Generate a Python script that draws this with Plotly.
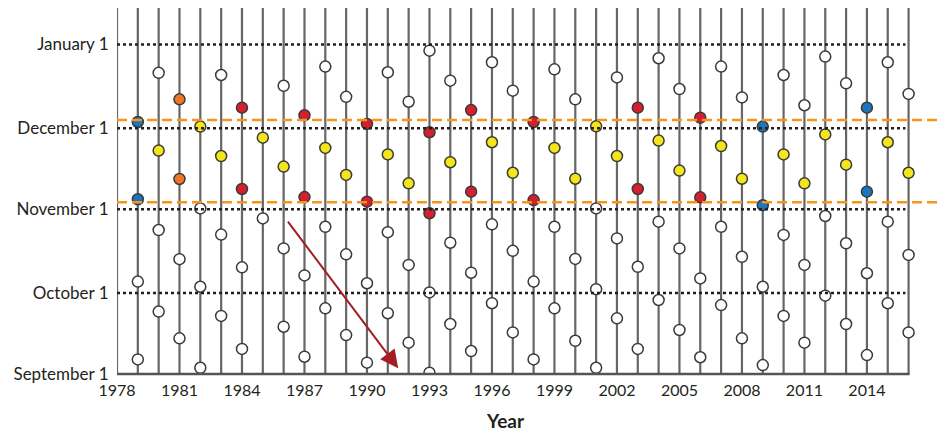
import plotly.graph_objects as go

# ---- data: days after September 1 (Sep 1 = 0, Oct 1 = 30, Nov 1 = 61, Dec 1 = 91, Jan 1 = 122)
years = list(range(1978, 2017))

blue_years = [1979, 1979, 2009, 2009, 2014, 2014]
blue_days = [93.3, 64.7, 91.6, 62.5, 98.6, 67.5]

orange_years = [1981, 1981]
orange_days = [101.7, 72.2]

red_years = [1984, 1984, 1987, 1987, 1990, 1990, 1993, 1993,
             1995, 1995, 1998, 1998, 2003, 2003, 2006, 2006]
red_days = [98.6, 68.5, 95.8, 65.5, 92.6, 63.8, 89.5, 59.5,
            97.7, 67.5, 93.3, 64.4, 98.6, 68.5, 94.9, 65.4]

yellow_years = [1980, 1982, 1983, 1985, 1986, 1988, 1989, 1991, 1992, 1994,
                1996, 1997, 1999, 2000, 2001, 2002, 2004, 2005, 2007, 2008,
                2010, 2011, 2012, 2013, 2015, 2016]
yellow_days = [82.7, 91.6, 80.7, 87.5, 76.8, 83.7, 73.7, 81.3, 70.6, 78.4,
               85.8, 74.5, 83.7, 72.3, 91.7, 80.7, 86.4, 75.3, 84.4, 72.3,
               81.3, 70.6, 88.7, 77.5, 85.8, 74.5]

white_years = [1979, 1979,
               1980, 1980, 1980,
               1981, 1981,
               1982, 1982, 1982,
               1983, 1983, 1983,
               1984, 1984,
               1985,
               1986, 1986, 1986,
               1987, 1987,
               1988, 1988, 1988,
               1989, 1989, 1989,
               1990, 1990,
               1991, 1991, 1991,
               1992, 1992, 1992,
               1993, 1993, 1993,
               1994, 1994, 1994,
               1995, 1995,
               1996, 1996, 1996,
               1997, 1997, 1997,
               1998, 1998,
               1999, 1999, 1999,
               2000, 2000, 2000,
               2001, 2001, 2001,
               2002, 2002, 2002,
               2003, 2003,
               2004, 2004, 2004,
               2005, 2005, 2005,
               2006, 2006,
               2007, 2007, 2007,
               2008, 2008, 2008,
               2009, 2009,
               2010, 2010, 2010,
               2011, 2011, 2011,
               2012, 2012, 2012,
               2013, 2013, 2013,
               2014, 2014,
               2015, 2015, 2015,
               2016, 2016, 2016]
white_days = [34.2, 5.4,
              111.5, 53.3, 23.1,
              42.5, 13.2,
              61.3, 32.3, 2.3,
              110.7, 51.6, 21.5,
              39.5, 9.3,
              57.6,
              106.7, 46.5, 17.5,
              36.5, 6.4,
              113.8, 54.5, 24.3,
              102.6, 44.3, 14.4,
              33.6, 4.2,
              111.7, 52.5, 22.5,
              100.8, 40.4, 11.6,
              119.7, 30.2, 0.5,
              108.6, 48.6, 18.5,
              37.5, 8.5,
              115.4, 55.4, 26.2,
              104.9, 45.6, 15.4,
              34.2, 5.4,
              112.8, 54.5, 24.3,
              101.7, 42.6, 12.3,
              61.3, 31.4, 2.3,
              109.8, 50.2, 20.6,
              39.7, 9.3,
              116.9, 56.4, 27.4,
              105.5, 46.5, 16.3,
              35.4, 6.2,
              113.8, 54.5, 25.5,
              102.4, 43.4, 13.2,
              32.3, 3.3,
              110.7, 51.5, 21.5,
              99.5, 40.4, 11.6,
              117.5, 58.5, 29.0,
              107.6, 48.4, 18.5,
              37.3, 7.0,
              115.4, 56.4, 26.2,
              103.7, 44.1, 15.4]

month_ticks = [0, 30, 61, 91, 122]
month_labels = ["September 1", "October 1", "November 1", "December 1", "January 1"]
dotted_days = [30, 61, 91, 122]
orange_days_lines = [63.6, 94.0]
year_ticks = list(range(1978, 2015, 3))

arrow_start = (1986.15, 57.0)
arrow_end = (1991.5, 2.1)

Y_TOP = 135.5
FONT = "Lato"
TXT = "#231f20"

fig = go.Figure()

# vertical year lines
vx, vy = [], []
for yr in years:
    vx += [yr, yr, None]
    vy += [0, Y_TOP, None]
fig.add_trace(go.Scatter(x=vx, y=vy, mode="lines",
                         line=dict(color="#666666", width=2.2),
                         hoverinfo="skip", showlegend=False))

# horizontal dotted month lines
for d in dotted_days:
    fig.add_shape(type="line", xref="x", yref="y", x0=1978, x1=2015.85, y0=d, y1=d,
                  line=dict(color=TXT, width=2.5, dash="3px,3px"), layer="above")

# orange dashed lines
for d in orange_days_lines:
    fig.add_shape(type="line", xref="paper", yref="y", x0=0, x1=1.05, y0=d, y1=d,
                  line=dict(color="#f7941d", width=2.5, dash="10px,5px"), layer="above")

# bottom axis line
fig.add_shape(type="line", xref="x", yref="paper", x0=1978, x1=2016.05, y0=0, y1=0,
              line=dict(color="#555555", width=2.5), layer="above")

def pts(xs, ys, fill):
    fig.add_trace(go.Scatter(x=xs, y=ys, mode="markers",
                             marker=dict(size=11, color=fill,
                                         line=dict(color="#3a3a3a", width=1.5)),
                             hoverinfo="skip", showlegend=False))

pts(white_years, white_days, "white")
pts(yellow_years, yellow_days, "#f4e61a")
pts(red_years, red_days, "#d51f2e")
pts(orange_years, orange_days, "#ee7624")
pts(blue_years, blue_days, "#1b75bc")

# red arrow
fig.add_annotation(x=arrow_end[0], y=arrow_end[1], ax=arrow_start[0], ay=arrow_start[1],
                   xref="x", yref="y", axref="x", ayref="y", text="",
                   showarrow=True, arrowhead=2, arrowsize=1.8, arrowwidth=2,
                   arrowcolor="#a51c24", standoff=0)

# x-axis title
fig.add_annotation(x=0.485, y=-0.127, xref="paper", yref="paper", text="<b>Year</b>",
                   showarrow=False, font=dict(family=FONT, size=19, color=TXT),
                   xanchor="center", yanchor="middle")

fig.update_layout(
    width=938, height=431,
    margin=dict(l=117, r=19, t=8, b=57),
    paper_bgcolor="white", plot_bgcolor="white",
    font=dict(family=FONT, color=TXT),
    xaxis=dict(range=[1978, 2016.5], tickvals=year_ticks, ticktext=[str(v) for v in year_ticks],
               showgrid=False, zeroline=False, showline=False,
               ticks="outside", ticklen=2, tickcolor="rgba(0,0,0,0)",
               tickfont=dict(family=FONT, size=16, color=TXT)),
    yaxis=dict(range=[0, Y_TOP], tickvals=month_ticks, ticktext=month_labels,
               showgrid=False, zeroline=False, showline=False,
               ticks="outside", ticklen=4, tickcolor="rgba(0,0,0,0)",
               tickfont=dict(family=FONT, size=17, color=TXT)),
)

fig.write_html("out.html", config={"displayModeBar": False},
               post_script="document.body.style.margin='0';document.body.style.overflow='hidden';")
